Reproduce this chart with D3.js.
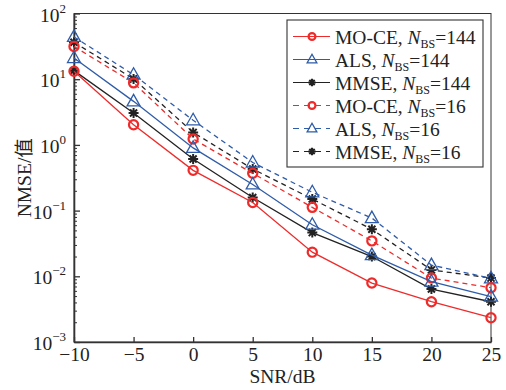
<!DOCTYPE html>
<meta charset="utf-8">
<script src="https://d3js.org/d3.v7.min.js"></script>
<style>
  body { margin: 0; background: #fff; }
  text { font-family: "Liberation Serif", "Times New Roman", "Noto Sans CJK SC", serif; fill: #222; }
</style>
<div id="chart"></div>
<script>
// data
const snr = [-10, -5, 0, 5, 10, 15, 20, 25];
const moce144 = [13.2, 2.03, 0.41, 0.133, 0.0233, 0.0079, 0.0041, 0.00234];
const als144  = [21, 4.6, 0.9, 0.25, 0.061, 0.021, 0.0083, 0.0049];
const mmse144 = [13.5, 3.06, 0.61, 0.158, 0.0463, 0.020, 0.0064, 0.0041];
const moce16  = [31.5, 8.8, 1.23, 0.37, 0.112, 0.0346, 0.0094, 0.0067];
const als16   = [44, 11.7, 2.37, 0.54, 0.19, 0.077, 0.0148, 0.0093];
const mmse16  = [36.5, 10.1, 1.55, 0.43, 0.15, 0.052, 0.0125, 0.0094];
const xTicks = [-10, -5, 0, 5, 10, 15, 20, 25];
const yExp = [-3, -2, -1, 0, 1, 2];

const series = [
  { name: "MO-CE, ", n: "144", values: moce144, color: "#ee2b2b", marker: "circle", dash: null },
  { name: "ALS, ",   n: "144", values: als144,  color: "#2f5ca8", marker: "triangle", dash: null },
  { name: "MMSE, ",  n: "144", values: mmse144, color: "#222",    marker: "star", dash: null },
  { name: "MO-CE, ", n: "16",  values: moce16,  color: "#ee2b2b", marker: "circle", dash: "5,4" },
  { name: "ALS, ",   n: "16",  values: als16,   color: "#2f5ca8", marker: "triangle", dash: "5,4" },
  { name: "MMSE, ",  n: "16",  values: mmse16,  color: "#222",    marker: "star", dash: "5,4" }
];

const W = 506, H = 390;
const margin = { top: 13.5, right: 15, bottom: 48, left: 74 };
const width = W - margin.left - margin.right,
      height = H - margin.top - margin.bottom;

const svg = d3.select("#chart").append("svg")
  .attr("width", W).attr("height", H)
  .append("g")
  .attr("transform", `translate(${margin.left},${margin.top})`);

const x = d3.scaleLinear().domain([-10, 25]).range([0, width]);
const y = d3.scaleLog().domain([1e-3, 1e2]).range([height, 0]);

// frame
svg.append("rect")
  .attr("width", width).attr("height", height)
  .attr("fill", "none").attr("stroke", "#333").attr("stroke-width", 1);

// x axis, ticks inside
const xAxis = svg.append("g")
  .attr("transform", `translate(0,${height})`)
  .call(d3.axisBottom(x).tickValues(xTicks).tickSizeInner(-5).tickSizeOuter(0)
    .tickPadding(5).tickFormat(d => d < 0 ? "\u2212" + Math.abs(d) : d));
xAxis.select(".domain").attr("stroke", "#333").attr("stroke-width", 1.6);
xAxis.selectAll("line").attr("stroke", "#333").attr("stroke-width", 1.3);
xAxis.selectAll("text").style("font-size", "19.5px").attr("fill", "#222")
  .style("font-family", "'Liberation Serif', serif");

// y axis, major + minor ticks inside
const majors = yExp.map(e => Math.pow(10, e));
const minors = [];
yExp.slice(0, -1).forEach(e => { for (let k = 2; k <= 9; k++) minors.push(k * Math.pow(10, e)); });

const yAxis = svg.append("g")
  .call(d3.axisLeft(y).tickValues(majors).tickSizeInner(-6).tickSizeOuter(0).tickFormat(""));
yAxis.select(".domain").attr("stroke", "#333").attr("stroke-width", 1.6);
yAxis.selectAll("line").attr("stroke", "#333").attr("stroke-width", 1.3);

const yMinor = svg.append("g")
  .call(d3.axisLeft(y).tickValues(minors).tickSizeInner(-3).tickSizeOuter(0).tickFormat(""));
yMinor.select(".domain").remove();
yMinor.selectAll("line").attr("stroke", "#333").attr("stroke-width", 1);

// y tick labels 10^n
const yl = svg.append("g").selectAll("text")
  .data(yExp).enter().append("text")
  .attr("x", -8).attr("y", d => y(Math.pow(10, d)) + 8)
  .attr("text-anchor", "end")
  .style("font-size", "19.5px");
yl.append("tspan").text("10");
yl.append("tspan").attr("dy", -9).style("font-size", "13px")
  .text(d => d < 0 ? "\u2212" + Math.abs(d) : d);

// axis titles
svg.append("text")
  .attr("x", width / 2).attr("y", height + 41)
  .attr("text-anchor", "middle").style("font-size", "19.5px")
  .text("SNR/dB");
svg.append("text")
  .attr("transform", `translate(-43,${height / 2}) rotate(-90)`)
  .attr("text-anchor", "middle").style("font-size", "19.5px")
  .text("NMSE/值");

// markers
function drawMarker(g, type, color, k) {
  k = k || 1;
  if (type === "circle") {
    g.append("circle").attr("r", 4.6 * k).attr("fill", "none")
      .attr("stroke", color).attr("stroke-width", 2.2);
  } else if (type === "triangle") {
    g.append("path").attr("d", `M0,${-7 * k}L${6.5 * k},${4.5 * k}L${-6.5 * k},${4.5 * k}Z`).attr("fill", "none")
      .attr("stroke", color).attr("stroke-width", 1.3);
  } else {
    const r = 5 * k;
    const p = [];
    for (let i = 0; i < 4; i++) {
      const a = i * Math.PI / 4;
      p.push(`M${-r * Math.cos(a)},${-r * Math.sin(a)}L${r * Math.cos(a)},${r * Math.sin(a)}`);
    }
    g.append("path").attr("d", p.join("")).attr("stroke", color).attr("stroke-width", 2);
  }
}

const line = d3.line().x((d, i) => x(snr[i])).y(d => y(d));

// draw lines back to front so solid red is on top as in reference
series.slice().reverse().forEach(s => {
  svg.append("path")
    .datum(s.values)
    .attr("fill", "none")
    .attr("stroke", s.color)
    .attr("stroke-width", 1.3)
    .attr("stroke-dasharray", s.dash)
    .attr("d", line);
  svg.append("g").selectAll("g")
    .data(s.values).enter().append("g")
    .attr("transform", (d, i) => `translate(${x(snr[i])},${y(d)})`)
    .each(function () { drawMarker(d3.select(this), s.marker, s.color); });
});

// legend (top right, inside the box)
const lg = svg.append("g").attr("transform", "translate(213,6.5)");
lg.append("rect").attr("width", 196).attr("height", 147)
  .attr("fill", "#fff").attr("stroke", "#333").attr("stroke-width", 1.1);
series.forEach((s, i) => {
  const row = lg.append("g").attr("transform", `translate(0,${16.5 + i * 23})`);
  row.append("line").attr("x1", 6).attr("x2", 43)
    .attr("stroke", s.color).attr("stroke-width", 1.1)
    .attr("stroke-dasharray", s.dash ? "6,5" : null);
  const m = row.append("g").attr("transform", "translate(25,0)");
  drawMarker(m, s.marker, s.color, 0.75);
  const t = row.append("text").attr("x", 48).attr("y", 7).style("font-size", "19.5px");
  t.append("tspan").text(s.name);
  t.append("tspan").style("font-style", "italic").text("N");
  t.append("tspan").attr("dy", 4).style("font-size", "12px").text("BS");
  t.append("tspan").attr("dy", -4).text("=" + s.n);
});
</script>
